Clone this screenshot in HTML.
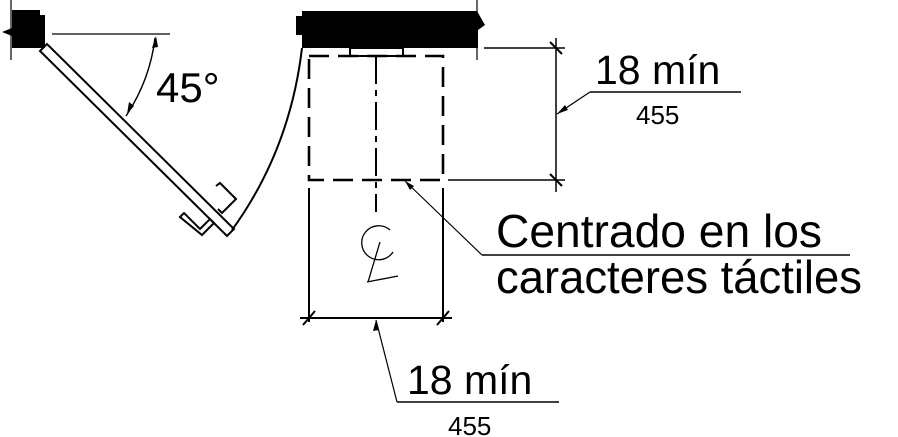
<!DOCTYPE html>
<html><head><style>html,body{margin:0;padding:0;background:#fff}svg{display:block}</style></head>
<body>
<svg width="898" height="437" viewBox="0 0 898 437" xmlns="http://www.w3.org/2000/svg">
<g fill="none" stroke="#000" stroke-width="2">
<path d="M12 10 H40 V15 H45 V48 H12 V36 L2 32 L12 28 Z" fill="#000" stroke="none"/>
<line x1="11" y1="0" x2="11" y2="60" stroke-width="1.2"/>
<polygon points="40,51 47,44 234,229 227,236" stroke-width="2"/>
<path d="M216 186 L220 183 L236 199 L226 209 L222 213 L218 209" stroke-width="2"/>
<path d="M180 217 L184 213 L200 229 L210 219 L214 223 L202 235 Z" stroke-width="2"/>
<line x1="52" y1="34" x2="170" y2="34" stroke-width="1.2"/>
<path d="M155 38 Q150 80 126 116" stroke-width="1.4"/>
<path d="M302 48 Q290 150 232 230" stroke-width="2"/>
<path d="M302 11 H477 L485 25 L478 30 V48 H302 Z" fill="#000" stroke="none"/>
<path d="M296 16 H302 V35 H296 Z" fill="#000" stroke="none"/>
<line x1="477" y1="0" x2="477" y2="60" stroke-width="1.2"/>
<rect x="350" y="48" width="53" height="8" fill="#fff" stroke-width="2"/>
<rect x="309" y="56" width="134" height="124" stroke-width="2.6" stroke-dasharray="20,9"/>
<line x1="376" y1="56" x2="376" y2="212" stroke-width="2" stroke-dasharray="28,6,6,6"/>
<line x1="309" y1="188" x2="309" y2="322" stroke-width="2"/>
<line x1="443" y1="188" x2="443" y2="322" stroke-width="2"/>
<path d="M390 230 A17 17 0 1 0 393 252" stroke-width="1.3"/>
<line x1="380" y1="242" x2="368" y2="282" stroke-width="1.3"/>
<line x1="367" y1="282" x2="398" y2="276" stroke-width="1.3"/>
<line x1="300" y1="318" x2="452" y2="318" stroke-width="2"/>
<line x1="303" y1="325" x2="315" y2="311" stroke-width="2"/>
<line x1="437" y1="325" x2="449" y2="311" stroke-width="2"/>
<line x1="376" y1="320" x2="397" y2="402" stroke-width="1.2"/>
<line x1="397" y1="402" x2="559" y2="402" stroke-width="1.5"/>
<line x1="484" y1="48" x2="565" y2="48" stroke-width="1.5"/>
<line x1="448" y1="180" x2="565" y2="180" stroke-width="1.5"/>
<line x1="556" y1="38" x2="556" y2="192" stroke-width="1.5"/>
<line x1="550" y1="42" x2="562" y2="54" stroke-width="2"/>
<line x1="550" y1="174" x2="562" y2="186" stroke-width="2"/>
<line x1="557" y1="114" x2="590" y2="92" stroke-width="1.2"/>
<line x1="590" y1="92" x2="741" y2="92" stroke-width="1.5"/>
<line x1="405" y1="181" x2="482" y2="255" stroke-width="1.2"/>
<line x1="482" y1="255" x2="850" y2="255" stroke-width="1.5"/>
</g>
<g fill="#000">
<polygon points="156,36 152,48 158,47"/>
<polygon points="127,114 129,102 134,106"/>
<polygon points="376,320 373,331 379,330"/>
<polygon points="557,114 565,105 568,110"/>
<polygon points="405,181 410,190 414,186"/>
</g>
<g font-family="Liberation Sans, sans-serif" fill="#000">
<text x="156" y="102" font-size="42">45°</text>
<text x="595" y="84" font-size="41">18 mín</text>
<text x="636" y="124" font-size="26">455</text>
<text x="407" y="394" font-size="41">18 mín</text>
<text x="448" y="435" font-size="26">455</text>
<text x="496" y="247" font-size="46" textLength="326" lengthAdjust="spacingAndGlyphs">Centrado en los</text>
<text x="496" y="293" font-size="46" textLength="366" lengthAdjust="spacingAndGlyphs">caracteres táctiles</text>
</g>
</svg>
</body></html>
